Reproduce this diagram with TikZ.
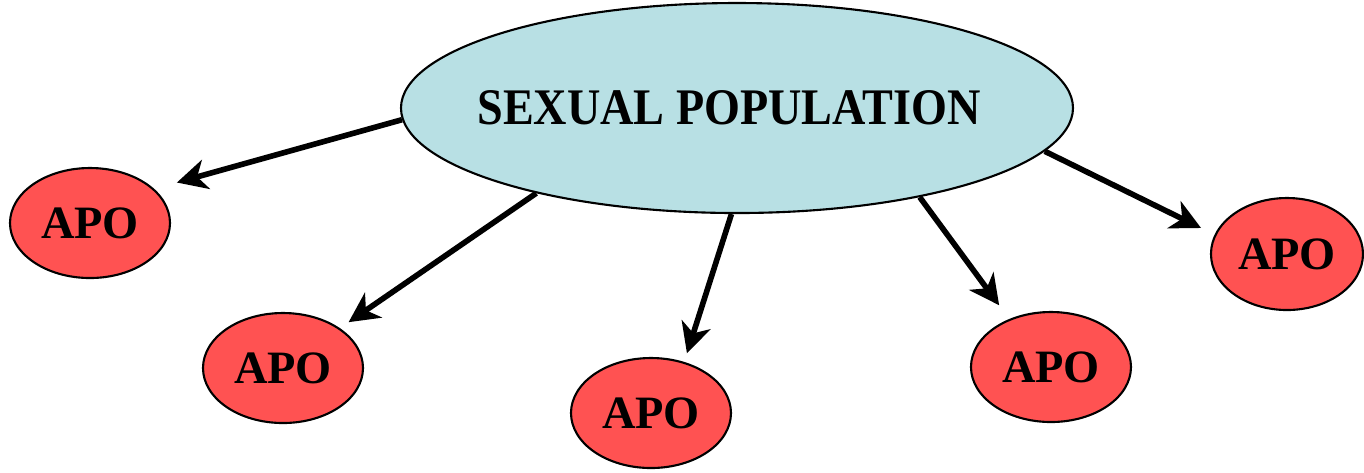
\documentclass[tikz,border=0pt]{standalone}
\usepackage{fontspec}
\setmainfont{Liberation Serif}
\usetikzlibrary{shapes.geometric,arrows.meta}
\definecolor{popblue}{HTML}{B8E0E4}
\definecolor{apored}{HTML}{FF5252}
\begin{document}
\begin{tikzpicture}[
   pop/.style={ellipse,draw,line width=0.6pt,fill=popblue,inner sep=0pt,
      minimum width=6.72cm,minimum height=2.10cm,
      font=\bfseries\fontsize{14.6}{17}\selectfont},
   apo/.style={ellipse,draw,line width=0.6pt,fill=apored,inner sep=0pt,
      minimum width=1.60cm,minimum height=1.10cm,
      font=\bfseries\fontsize{13.2}{15}\selectfont},
   >={Stealth[length=0.3cm,width=0.3cm,inset=0.09cm]},
   every edge/.style={draw,line width=1.6pt}] 
   \useasboundingbox (0,0) rectangle (13.64,-4.72);
   \node[pop] (sp)    at (7.37,-1.08) {\makebox[3cm]{\hspace{-0.16cm}\raisebox{-0.04cm}{\scalebox{0.9}[1]{SEXUAL POPULATION}}}}; 
   \node[apo] (apo_1) at (0.90,-2.23) {APO}; 
   \node[apo] (apo_2) at (2.83,-3.68) {APO}; 
   \node[apo] (apo_3) at (6.51,-4.13) {APO}; 
   \node[apo] (apo_4) at (10.51,-3.67) {APO};
   \node[apo,minimum width=1.52cm,minimum height=1.12cm] (apo_5) at (12.87,-2.54) {APO};
    \path[->] 
    (sp.182) edge [shorten >=0.235cm] (apo_1.28)
    (sp.203) edge [shorten >=0.105cm] (apo_2.35)
    (sp.267) edge [shorten >=0.09cm]  (apo_3.57)
    (sp.334) edge [shorten >=0.17cm]  (apo_4.131)
    (sp.352) edge [shorten >=0.15cm]  (apo_5.165);
\end{tikzpicture}
\end{document}
